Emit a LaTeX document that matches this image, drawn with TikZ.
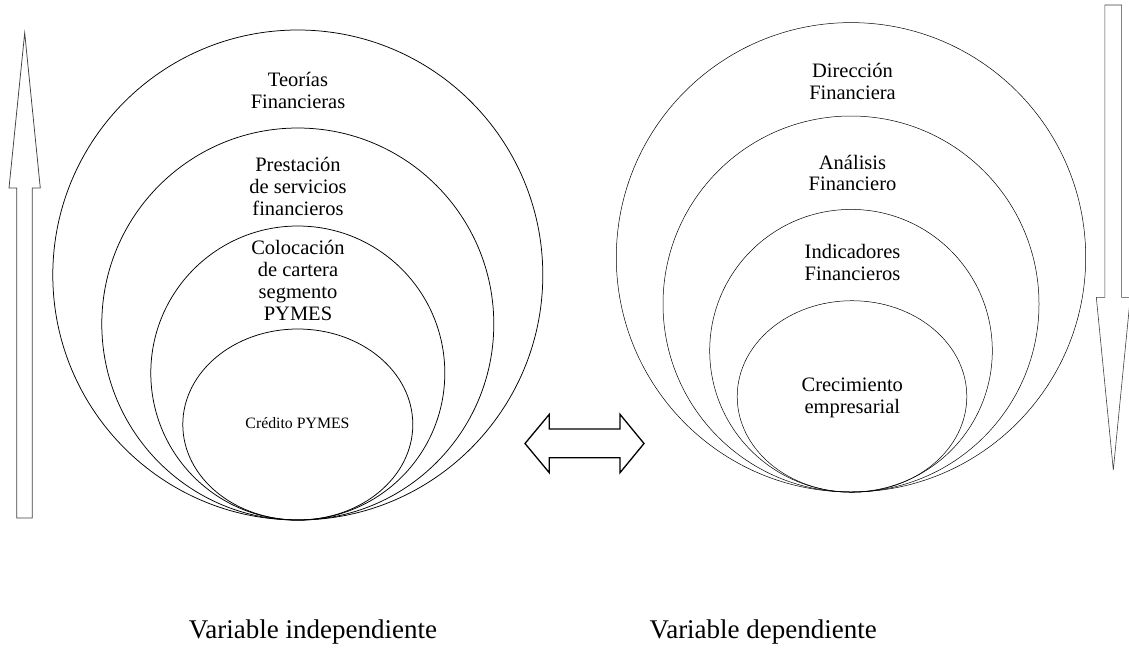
\documentclass[tikz,border=0pt]{standalone}
\usepackage{fontspec}
\setmainfont{Liberation Serif}

\tikzset{every picture/.style={line width=0.75pt}}

\begin{document}
\begin{tikzpicture}[x=1pt,y=1pt,yscale=-1,xscale=1,
  lbl/.style={anchor=base,inner sep=0pt,align=center,font=\fontsize{20.5}{21.7}\selectfont},
  varlbl/.style={anchor=base,inner sep=0pt,font=\fontsize{27}{30}\selectfont},
  thinring/.style={line width=0.5pt},
  blockarrow/.style={draw=black!75,line width=0.75pt,line join=miter}]
\useasboundingbox (0,0) rectangle (1129,649);
\clip (0,0) rectangle (1129,649);
\fill[white] (0,0) rectangle (1129,649);

%Shape: Up Arrow [id:dp1]
\draw [blockarrow] (16.7,518) -- (16.7,188) -- (9,188) -- (24.7,33) -- (40.3,188) -- (32.3,188) -- (32.3,518) -- cycle ;
%Shape: Down Arrow [id:dp2]
\draw [blockarrow,line width=0.6pt] (1104.8,5) -- (1121.6,5) -- (1121.6,297.3) -- (1130.3,297.3) -- (1113.3,470) -- (1096.3,297.3) -- (1104.8,297.3) -- cycle ;
%Shape: Left-Right Arrow [id:dp3]
\draw [line width=1.3pt,line join=miter] (525,443.5) -- (549.3,414.3) -- (549.3,429) -- (620,429) -- (620,414.3) -- (644,443.5) -- (620,472.7) -- (620,457.7) -- (549.3,457.7) -- (549.3,472.7) -- cycle ;

%Shape: Circle [id:dp4]
\draw   (297.8,275) circle [radius=245] ;
%Shape: Circle [id:dp5]
\draw   (297.8,324) circle [radius=196] ;
%Shape: Circle [id:dp6]
\draw   (297.8,373) circle [radius=147] ;
%Shape: Ellipse [id:dp7]
\draw   (297.8,424.5) ellipse [x radius=115, y radius=95.5] ;

%Shape: Circle [id:dp8]
\draw [thinring]  (851,257.3) circle [radius=234.7] ;
%Shape: Circle [id:dp9]
\draw [thinring]  (851,304) circle [radius=188] ;
%Shape: Circle [id:dp10]
\draw [thinring]  (851,350.7) circle [radius=141.3] ;
%Shape: Ellipse [id:dp11]
\draw [thinring]  (852,396.5) ellipse [x radius=114.8, y radius=95.8] ;

% Text Node (anchored on the baseline of the last line)
\node [lbl] (teorias) at (298,108.5) {Teorías\\Financieras};
% Text Node
\node [lbl] (prestacion) at (298,215) {Prestación\\de servicios\\financieros};
% Text Node
\node [lbl,font=\fontsize{20.5}{22.2}\selectfont] (colocacion) at (298,320.7) {Colocación\\de cartera\\segmento\\PYMES};
% Text Node
\node [lbl,font=\fontsize{15.8}{18}\selectfont] (credito) at (297.5,428) {Crédito PYMES};
% Text Node
\node [lbl] (direccion) at (852.5,99) {Dirección\\Financiera};
% Text Node
\node [lbl] (analisis) at (852.5,190.7) {Análisis\\Financiero};
% Text Node
\node [lbl] (indicadores) at (852.5,280) {Indicadores\\Financieros};
% Text Node
\node [lbl] (crecimiento) at (852.3,413.3) {Crecimiento\\empresarial};
% Text Node
\node [varlbl] (varind) at (313,638) {Variable independiente};
% Text Node
\node [varlbl] (vardep) at (763.3,638) {Variable dependiente};

\end{tikzpicture}
\end{document}
